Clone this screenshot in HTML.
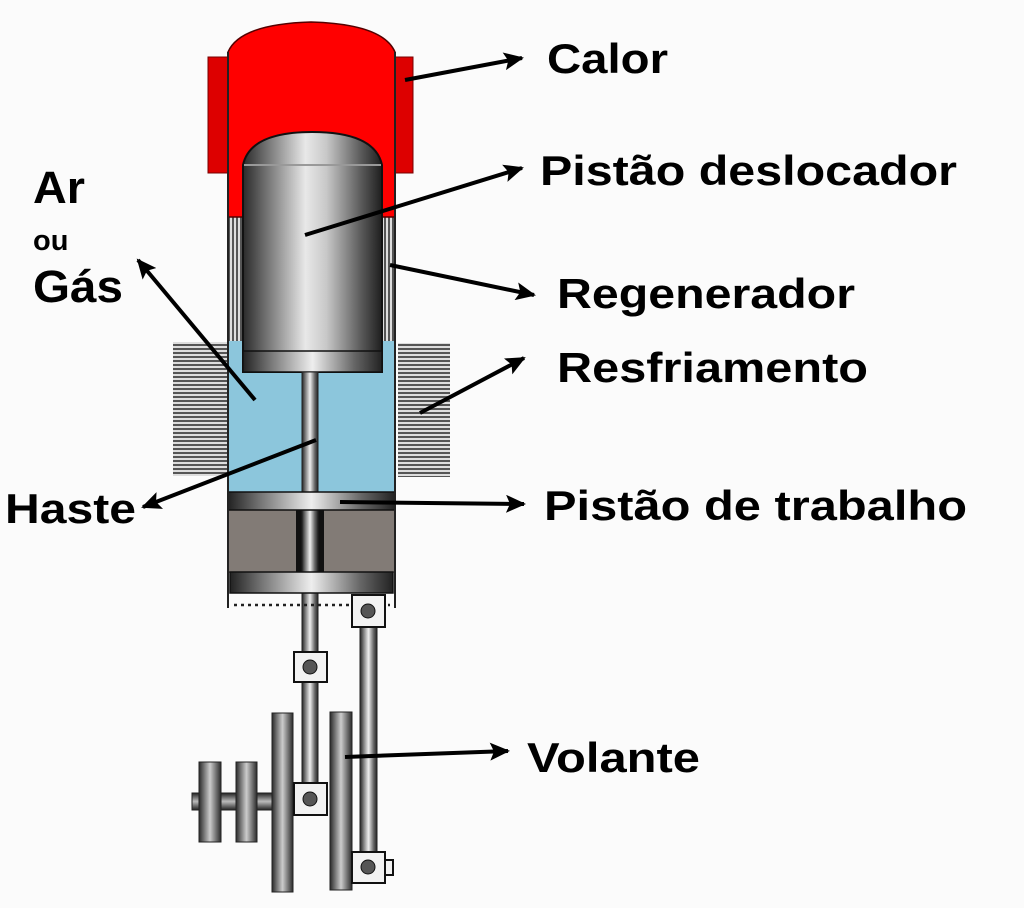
<!DOCTYPE html>
<html><head><meta charset="utf-8"><style>
html,body{margin:0;padding:0;background:#fbfbfb;}
svg{display:block}
text{font-family:"Liberation Sans",Arial,sans-serif;font-weight:bold;fill:#000}
</style></head><body>
<svg width="1024" height="908" viewBox="0 0 1024 908" xmlns="http://www.w3.org/2000/svg">
<defs>
<linearGradient id="cyl" x1="0" x2="1" y1="0" y2="0">
<stop offset="0" stop-color="#2a2a2a"/><stop offset="0.15" stop-color="#6a6a6a"/><stop offset="0.45" stop-color="#e8e8e8"/><stop offset="0.6" stop-color="#c8c8c8"/><stop offset="0.85" stop-color="#5a5a5a"/><stop offset="1" stop-color="#1e1e1e"/>
</linearGradient>
<linearGradient id="band" x1="0" x2="1" y1="0" y2="0">
<stop offset="0" stop-color="#222"/><stop offset="0.2" stop-color="#777"/><stop offset="0.5" stop-color="#eee"/><stop offset="0.8" stop-color="#666"/><stop offset="1" stop-color="#222"/>
</linearGradient>
<linearGradient id="wheel" x1="0" x2="1" y1="0" y2="0">
<stop offset="0" stop-color="#2a2a2a"/><stop offset="0.5" stop-color="#ccc"/><stop offset="1" stop-color="#2a2a2a"/>
</linearGradient>
<linearGradient id="wheelv" x1="0" x2="0" y1="0" y2="1">
<stop offset="0" stop-color="#222"/><stop offset="0.5" stop-color="#bbb"/><stop offset="1" stop-color="#222"/>
</linearGradient>
<pattern id="hl" width="6" height="4" patternUnits="userSpaceOnUse"><rect width="6" height="4" fill="#ddd"/><rect width="6" height="2" fill="#555"/></pattern>
<pattern id="vl" width="4" height="6" patternUnits="userSpaceOnUse"><rect width="4" height="6" fill="#ddd"/><rect width="2" height="6" fill="#555"/></pattern>
<marker id="ah" markerWidth="20" markerHeight="18" refX="18" refY="9" orient="auto" markerUnits="userSpaceOnUse" viewBox="0 0 20 18"><path d="M0,0 L20,9 L0,18 L4,9 z" fill="#000"/></marker>
</defs>
<rect x="208" y="57" width="20" height="116" fill="#dd0000" stroke="#700" stroke-width="1"/>
<rect x="395" y="57" width="18" height="116" fill="#dd0000" stroke="#700" stroke-width="1"/>
<rect x="228" y="217" width="167" height="125" fill="url(#vl)"/>
<path d="M228,217 L228,52 Q240,24 311,22 Q383,24 395,52 L395,217 Z" fill="#f00" stroke="#500" stroke-width="1.5"/>
<rect x="228" y="341" width="167" height="152" fill="#8cc6dc"/>
<rect x="173" y="342" width="55" height="134" fill="url(#hl)"/>
<rect x="398" y="343" width="52" height="134" fill="url(#hl)"/>
<path d="M243,372 L243,165 Q250,132 312,132 Q375,132 382,165 L382,372 Z" fill="url(#cyl)" stroke="#111" stroke-width="2"/>
<rect x="243" y="351" width="139" height="21" fill="url(#band)" stroke="#111" stroke-width="1.5"/>
<line x1="244" y1="165" x2="381" y2="165" stroke="#999" stroke-width="2"/>
<rect x="228" y="510" width="167" height="63" fill="#827b76"/>
<rect x="296" y="510" width="28" height="63" fill="#111"/>
<rect x="302" y="372" width="16" height="440" fill="url(#band)" stroke="#222" stroke-width="1"/>
<rect x="228" y="492" width="167" height="18" fill="url(#band)" stroke="#111" stroke-width="1.5"/>
<rect x="230" y="572" width="163" height="21" fill="url(#band)" stroke="#111" stroke-width="1.5"/>
<line x1="228" y1="52" x2="228" y2="608" stroke="#222" stroke-width="2"/>
<line x1="395" y1="52" x2="395" y2="608" stroke="#222" stroke-width="2"/>
<line x1="234" y1="605" x2="390" y2="605" stroke="#222" stroke-width="2.5" stroke-dasharray="3,4"/>
<rect x="360" y="620" width="17" height="240" fill="url(#band)" stroke="#222" stroke-width="1"/>
<rect x="192" y="793" width="82" height="17" fill="url(#wheelv)" stroke="#222"/>
<rect x="199" y="762" width="22" height="80" fill="url(#wheel)" stroke="#222"/>
<rect x="236" y="762" width="21" height="80" fill="url(#wheel)" stroke="#222"/>
<rect x="272" y="713" width="21" height="179" fill="url(#wheel)" stroke="#222"/>
<rect x="330" y="712" width="22" height="178" fill="url(#wheel)" stroke="#222"/>
<g fill="#f2f2f2" stroke="#111" stroke-width="2">
<rect x="352" y="595" width="33" height="32"/>
<rect x="294" y="652" width="33" height="30"/>
<rect x="294" y="783" width="33" height="32"/>
<rect x="352" y="852" width="33" height="31"/>
<rect x="385" y="860" width="8" height="15"/>
</g>
<g fill="#555" stroke="#111" stroke-width="1">
<circle cx="368" cy="611" r="7"/><circle cx="310" cy="667" r="7"/><circle cx="310" cy="799" r="7"/><circle cx="368" cy="867" r="7"/>
</g>
<g stroke="#000" stroke-width="4" marker-end="url(#ah)" fill="none">
<line x1="405" y1="80" x2="522" y2="58"/>
<line x1="305" y1="235" x2="522" y2="168"/>
<line x1="390" y1="265" x2="534" y2="295"/>
<line x1="420" y1="413" x2="524" y2="358"/>
<line x1="340" y1="502" x2="524" y2="504"/>
<line x1="345" y1="757" x2="508" y2="751"/>
<line x1="255" y1="400" x2="138" y2="260"/>
<line x1="316" y1="440" x2="143" y2="507"/>
</g>
<text x="547" y="73" font-size="42" textLength="121" lengthAdjust="spacingAndGlyphs">Calor</text>
<text x="540" y="185" font-size="42" textLength="417" lengthAdjust="spacingAndGlyphs">Pistão deslocador</text>
<text x="557" y="308" font-size="42" textLength="298" lengthAdjust="spacingAndGlyphs">Regenerador</text>
<text x="557" y="382" font-size="42" textLength="311" lengthAdjust="spacingAndGlyphs">Resfriamento</text>
<text x="544" y="520" font-size="42" textLength="423" lengthAdjust="spacingAndGlyphs">Pistão de trabalho</text>
<text x="527" y="772" font-size="42" textLength="173" lengthAdjust="spacingAndGlyphs">Volante</text>
<text x="33" y="203" font-size="45" textLength="52" lengthAdjust="spacingAndGlyphs">Ar</text>
<text x="33" y="250" font-size="29">ou</text>
<text x="33" y="302" font-size="45" textLength="90" lengthAdjust="spacingAndGlyphs">Gás</text>
<text x="5" y="523" font-size="42" textLength="131" lengthAdjust="spacingAndGlyphs">Haste</text>
</svg>
</body></html>
